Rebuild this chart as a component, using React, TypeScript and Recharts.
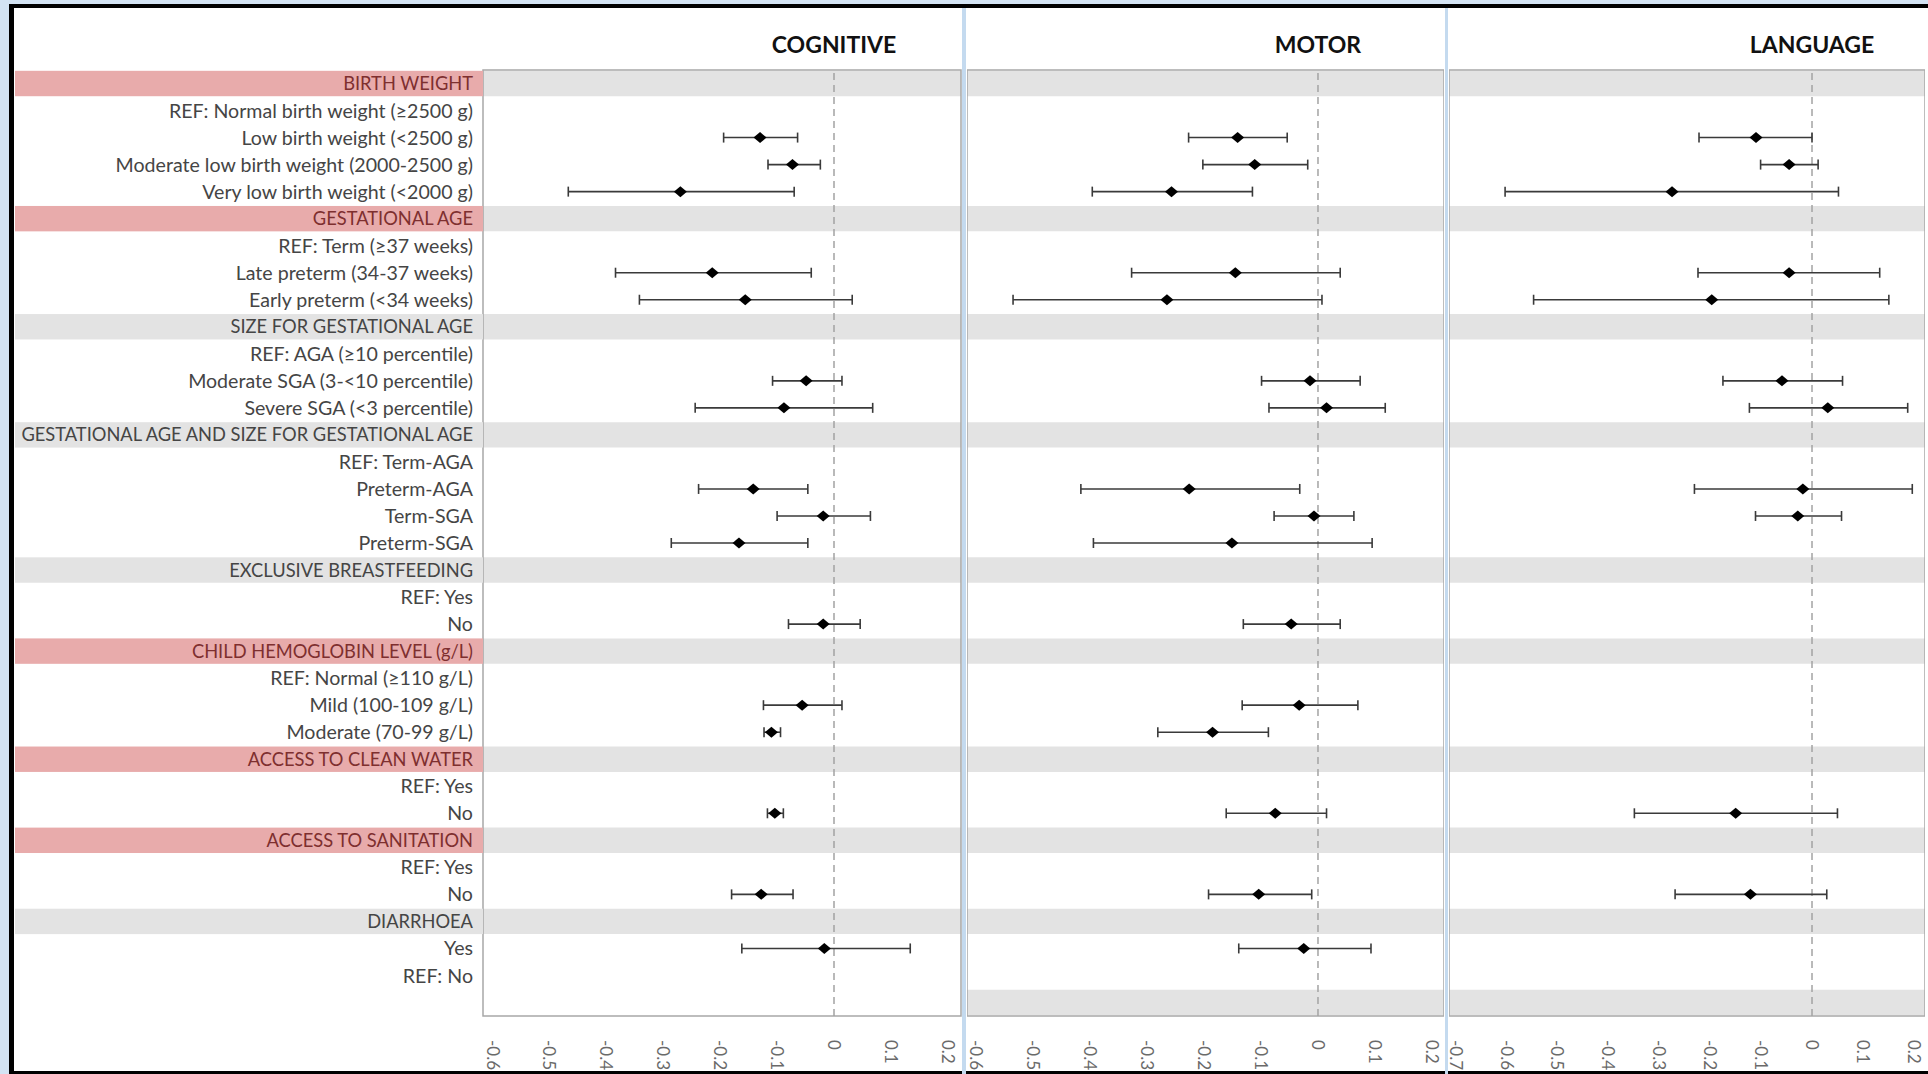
import React from "react";
import {
  ScatterChart,
  Scatter,
  XAxis,
  YAxis,
  ErrorBar,
  ReferenceArea,
  ReferenceLine,
} from "recharts";

// row labels, top to bottom
const ROW_LABELS = [
  "BIRTH WEIGHT",
  "REF: Normal birth weight (≥2500 g)",
  "Low birth weight (<2500 g)",
  "Moderate low birth weight (2000-2500 g)",
  "Very low birth weight (<2000 g)",
  "GESTATIONAL AGE",
  "REF: Term (≥37 weeks)",
  "Late preterm (34-37 weeks)",
  "Early preterm (<34 weeks)",
  "SIZE FOR GESTATIONAL AGE",
  "REF: AGA (≥10 percentile)",
  "Moderate SGA (3-<10 percentile)",
  "Severe SGA (<3 percentile)",
  "GESTATIONAL AGE AND SIZE FOR GESTATIONAL AGE",
  "REF: Term-AGA",
  "Preterm-AGA",
  "Term-SGA",
  "Preterm-SGA",
  "EXCLUSIVE BREASTFEEDING",
  "REF: Yes",
  "No",
  "CHILD HEMOGLOBIN LEVEL (g/L)",
  "REF: Normal (≥110 g/L)",
  "Mild (100-109 g/L)",
  "Moderate (70-99 g/L)",
  "ACCESS TO CLEAN WATER",
  "REF: Yes",
  "No",
  "ACCESS TO SANITATION",
  "REF: Yes",
  "No",
  "DIARRHOEA",
  "Yes",
  "REF: No",
];

const PINK_ROWS = [0, 5, 21, 25, 28];
const GRAY_ROWS = [9, 13, 18, 31];
const HEADER_ROWS = [...PINK_ROWS, ...GRAY_ROWS];

const COGNITIVE_ROWS = [2, 3, 4, 7, 8, 11, 12, 15, 16, 17, 20, 23, 24, 27, 30, 32];
const COGNITIVE_EST = [-0.13, -0.073, -0.27, -0.214, -0.156, -0.049, -0.088, -0.142, -0.019, -0.167, -0.019, -0.056, -0.11, -0.104, -0.128, -0.017];
const COGNITIVE_LO = [-0.194, -0.116, -0.467, -0.384, -0.342, -0.108, -0.244, -0.238, -0.1, -0.286, -0.08, -0.124, -0.123, -0.117, -0.18, -0.162];
const COGNITIVE_HI = [-0.064, -0.024, -0.07, -0.04, 0.032, 0.014, 0.068, -0.046, 0.064, -0.046, 0.046, 0.014, -0.094, -0.089, -0.072, 0.134];

const MOTOR_ROWS = [2, 3, 4, 7, 8, 11, 12, 15, 16, 17, 20, 23, 24, 27, 30, 32];
const MOTOR_EST = [-0.141, -0.111, -0.257, -0.145, -0.265, -0.014, 0.015, -0.226, -0.007, -0.151, -0.047, -0.033, -0.185, -0.075, -0.104, -0.025];
const MOTOR_LO = [-0.227, -0.202, -0.396, -0.327, -0.535, -0.099, -0.086, -0.416, -0.077, -0.394, -0.131, -0.133, -0.281, -0.161, -0.192, -0.139];
const MOTOR_HI = [-0.054, -0.018, -0.115, 0.039, 0.007, 0.074, 0.118, -0.032, 0.063, 0.095, 0.039, 0.07, -0.087, 0.015, -0.011, 0.093];

const LANGUAGE_ROWS = [2, 3, 4, 7, 8, 11, 12, 15, 16, 27, 30];
const LANGUAGE_EST = [-0.11, -0.045, -0.275, -0.045, -0.197, -0.059, 0.031, -0.018, -0.028, -0.15, -0.121];
const LANGUAGE_LO = [-0.222, -0.101, -0.603, -0.224, -0.547, -0.175, -0.123, -0.231, -0.111, -0.349, -0.269];
const LANGUAGE_HI = [0.0, 0.012, 0.052, 0.133, 0.151, 0.06, 0.188, 0.197, 0.058, 0.05, 0.029];

const TICKS_A = [-0.6, -0.5, -0.4, -0.3, -0.2, -0.1, 0, 0.1, 0.2];
const TICKS_B = [-0.7, -0.6, -0.5, -0.4, -0.3, -0.2, -0.1, 0, 0.1, 0.2];

const FONT = "Lato, 'Open Sans', sans-serif";
const ROW_COUNT = 35;
const Y_DOMAIN: [number, number] = [-0.5, ROW_COUNT - 0.5];
const LABEL_TICKS = ROW_LABELS.map((_, i) => i);

const buildData = (rows: number[], est: number[], lo: number[], hi: number[]) =>
  rows.map((row, i) => ({
    row,
    est: est[i],
    err: [est[i] - lo[i], hi[i] - est[i]],
  }));

const Diamond = (props: any) => {
  const { cx, cy } = props;
  if (cx == null || cy == null) return null;
  return (
    <polygon
      points={`${cx},${cy - 5.5} ${cx + 6.5},${cy} ${cx},${cy + 5.5} ${cx - 6.5},${cy}`}
      fill="#000"
    />
  );
};

const XTick = (props: any) => {
  const { x, y, payload } = props;
  return (
    <text
      x={x}
      y={y}
      transform={`rotate(90 ${x} ${y})`}
      dy="0.36em"
      textAnchor="start"
      fill="#6a6a6a"
      fontSize={17}
      fontFamily={FONT}
    >
      {String(payload.value)}
    </text>
  );
};

const LabelTick = (props: any) => {
  const { y, payload } = props;
  const i = payload.value as number;
  const pink = PINK_ROWS.includes(i);
  const gray = GRAY_ROWS.includes(i);
  const header = pink || gray;
  return (
    <g>
      {header && (
        <rect x={1} y={y - 12.7} width={468} height={25.4} fill={pink ? "#e8abab" : "#e3e3e3"} />
      )}
      <text
        x={459}
        y={y}
        dy="0.36em"
        textAnchor="end"
        fill={pink ? "#7e2f2f" : "#454545"}
        fontSize={header ? 18.3 : 19.6}
        fontFamily={FONT}
      >
        {ROW_LABELS[i]}
      </text>
    </g>
  );
};

interface PanelProps {
  title: string;
  data: { row: number; est: number; err: number[] }[];
  domain: [number, number];
  ticks: number[];
  bands: number[];
  width: number;
  left: number;
  showLabels?: boolean;
  marginRight: number;
}

function Panel({ title, data, domain, ticks, bands, width, left, showLabels, marginRight }: PanelProps) {
  return (
    <div style={{ position: "absolute", left, top: 0 }}>
      <ScatterChart
        width={width}
        height={1074}
        margin={{ top: 70, right: marginRight, bottom: 0, left: 0 }}
        style={{ overflow: "visible" }}
      >
        <XAxis
          type="number"
          dataKey="est"
          domain={domain}
          allowDataOverflow
          ticks={ticks}
          interval={0}
          height={58}
          tickSize={0}
          tickMargin={24}
          tickLine={false}
          axisLine={false}
          tick={<XTick />}
        />
        <YAxis
          type="number"
          dataKey="row"
          domain={Y_DOMAIN}
          allowDataOverflow
          reversed
          hide={!showLabels}
          width={showLabels ? 469 : 0}
          ticks={LABEL_TICKS}
          interval={0}
          tickLine={false}
          axisLine={false}
          tick={<LabelTick />}
        />
        {bands.map((r) => (
          <ReferenceArea
            key={r}
            y1={r - 0.47}
            y2={r + 0.47}
            fill="#e3e3e3"
            fillOpacity={1}
            stroke="none"
          />
        ))}
        <ReferenceLine
          x={0}
          stroke="#a3a3a3"
          strokeWidth={1.5}
          strokeDasharray="7 5"
          label={{
            value: title,
            position: "top",
            offset: 17,
            fill: "#111",
            fontSize: 23,
            fontWeight: 700,
            fontFamily: FONT,
          }}
        />
        <ReferenceArea
          x1={domain[0]}
          x2={domain[1]}
          y1={Y_DOMAIN[0]}
          y2={Y_DOMAIN[1]}
          fill="none"
          stroke="#a8a8a8"
          strokeWidth={1.5}
        />
        <Scatter data={data} shape={<Diamond />} isAnimationActive={false}>
          <ErrorBar
            dataKey="err"
            direction="x"
            width={5}
            stroke="#3a3a3a"
            strokeWidth={1.6}
            isAnimationActive={false}
          />
        </Scatter>
      </ScatterChart>
    </div>
  );
}

export default function App() {
  const cognitive = buildData(COGNITIVE_ROWS, COGNITIVE_EST, COGNITIVE_LO, COGNITIVE_HI);
  const motor = buildData(MOTOR_ROWS, MOTOR_EST, MOTOR_LO, MOTOR_HI);
  const language = buildData(LANGUAGE_ROWS, LANGUAGE_EST, LANGUAGE_LO, LANGUAGE_HI);
  const bandsLast = [...HEADER_ROWS, 34];

  return (
    <div
      style={{
        position: "absolute",
        left: 0,
        top: 0,
        width: 1928,
        height: 1074,
        background: "#d3e3f3",
        overflow: "hidden",
      }}
    >
      <div style={{ position: "absolute", left: 9, top: 4, width: 1919, height: 1070, background: "#000" }} />
      <div style={{ position: "absolute", left: 14, top: 8, width: 1914, height: 1063, background: "#fff" }} />
      <div style={{ position: "absolute", left: 962, top: 8, width: 4, height: 1066, background: "#c4daef" }} />
      <div style={{ position: "absolute", left: 1445, top: 8, width: 3, height: 1066, background: "#c4daef" }} />
      <Panel
        title="COGNITIVE"
        data={cognitive}
        domain={[-0.6169, 0.2232]}
        ticks={TICKS_A}
        bands={HEADER_ROWS}
        width={949}
        left={14}
        showLabels
        marginRight={2}
      />
      <Panel
        title="MOTOR"
        data={motor}
        domain={[-0.6158, 0.2211]}
        ticks={TICKS_A}
        bands={bandsLast}
        width={477}
        left={967}
        marginRight={0}
      />
      <Panel
        title="LANGUAGE"
        data={language}
        domain={[-0.7132, 0.222]}
        ticks={TICKS_B}
        bands={bandsLast}
        width={476}
        left={1449}
        marginRight={0}
      />
    </div>
  );
}
